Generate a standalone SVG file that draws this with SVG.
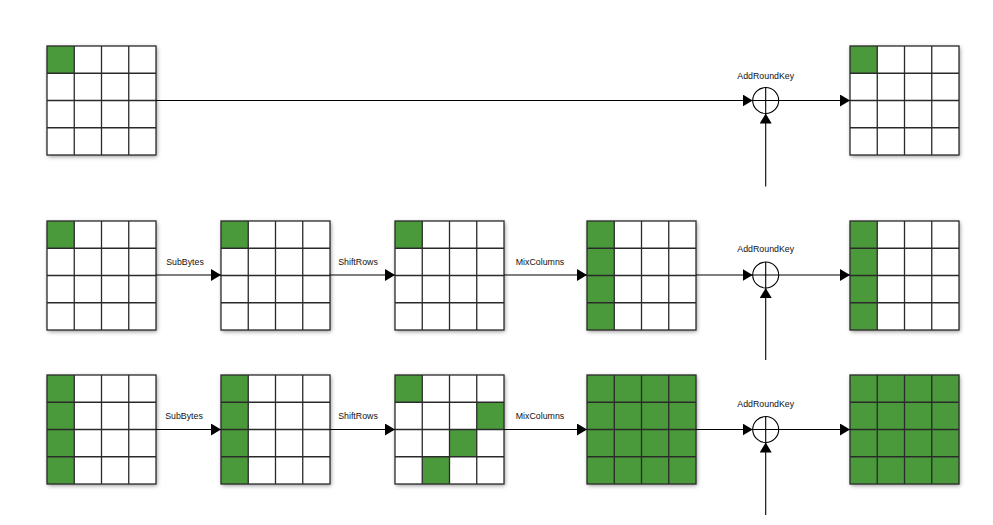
<svg xmlns="http://www.w3.org/2000/svg" xmlns:xlink="http://www.w3.org/1999/xlink" width="993" height="525" viewBox="0 0 993 525">
<style>
.bg{fill:#ffffff;filter:url(#sh)}
.g{fill:#4a9a3b}
.gl{fill:none;stroke:#2a2a2a;stroke-width:1.3}
.c{fill:none;stroke:#000;stroke-width:1.1}
.ln{fill:none;stroke:#000;stroke-width:1.1}
.ar{fill:none;stroke:#000;stroke-width:1.1;marker-end:url(#ah)}
.t{font-family:"Liberation Sans",Arial,sans-serif;font-size:8.8px;fill:#111;text-anchor:middle}
</style>
<defs>
<filter id="sh" x="-10%" y="-10%" width="125%" height="125%">
<feDropShadow dx="1" dy="1.5" stdDeviation="2" flood-color="#000" flood-opacity="0.45"/>
</filter>
<marker id="ah" markerUnits="userSpaceOnUse" markerWidth="11" markerHeight="13" refX="10" refY="6" orient="auto">
<path d="M0,0 L10,6 L0,12 z" fill="#000"/>
</marker>
<g id="grid">
<path class="gl" d="M27.25,0V109M54.5,0V109M81.75,0V109M0,27.25H109M0,54.5H109M0,81.75H109"/>
<rect class="gl" x="0" y="0" width="109" height="109"/>
</g>
<g id="col0">
<rect class="g" x="0" y="0" width="27.25" height="109"/>
</g>
<g id="cell0">
<rect class="g" x="0" y="0" width="27.25" height="27.25"/>
</g>
<g id="full">
<rect class="g" x="0" y="0" width="109" height="109"/>
</g>
<g id="xor">
<circle class="c" cx="0" cy="0" r="13"/>
<path class="ln" d="M-13,0H13M0,-13V13"/>
</g>
</defs>

<!-- Row 1 -->
<g id="r1-state" transform="translate(47,46)">
<rect class="bg" width="109" height="109"/><use href="#cell0"/><use href="#grid"/>
</g>
<g id="r1-ark" transform="translate(765.7,100.5)">
<use href="#xor"/><text class="t" x="0" y="-22">AddRoundKey</text>
</g>
<g id="r1-out" transform="translate(850,46)">
<rect class="bg" width="109" height="109"/><use href="#cell0"/><use href="#grid"/>
</g>

<!-- Row 2 -->
<g id="r2-state" transform="translate(47,221)">
<rect class="bg" width="109" height="109"/><use href="#cell0"/><use href="#grid"/>
</g>
<g id="r2-sub" transform="translate(221,221)">
<rect class="bg" width="109" height="109"/><use href="#cell0"/><use href="#grid"/>
</g>
<g id="r2-shift" transform="translate(395,221)">
<rect class="bg" width="109" height="109"/><use href="#cell0"/><use href="#grid"/>
</g>
<g id="r2-mix" transform="translate(587,221)">
<rect class="bg" width="109" height="109"/><use href="#col0"/><use href="#grid"/>
</g>
<g id="r2-ark" transform="translate(765.7,275)">
<use href="#xor"/><text class="t" x="0" y="-23">AddRoundKey</text>
</g>
<g id="r2-out" transform="translate(850,221)">
<rect class="bg" width="109" height="109"/><use href="#col0"/><use href="#grid"/>
</g>

<!-- Row 3 -->
<g id="r3-state" transform="translate(47,375)">
<rect class="bg" width="109" height="109"/><use href="#col0"/><use href="#grid"/>
</g>
<g id="r3-sub" transform="translate(221,375)">
<rect class="bg" width="109" height="109"/><use href="#col0"/><use href="#grid"/>
</g>
<g id="r3-shift" transform="translate(395,375)">
<rect class="bg" width="109" height="109"/>
<rect class="g" x="0" y="0" width="27.25" height="27.25"/>
<rect class="g" x="81.75" y="27.25" width="27.25" height="27.25"/>
<rect class="g" x="54.5" y="54.5" width="27.25" height="27.25"/>
<rect class="g" x="27.25" y="81.75" width="27.25" height="27.25"/>
<use href="#grid"/>
</g>
<g id="r3-mix" transform="translate(587,375)">
<rect class="bg" width="109" height="109"/><use href="#full"/><use href="#grid"/>
</g>
<g id="r3-ark" transform="translate(765.7,429.5)">
<use href="#xor"/><text class="t" x="0" y="-23">AddRoundKey</text>
</g>
<g id="r3-out" transform="translate(850,375)">
<rect class="bg" width="109" height="109"/><use href="#full"/><use href="#grid"/>
</g>

<g id="connectors">
<path class="ar" d="M156,100.5H752.7"/>
<path class="ar" d="M778.7,100.5H850"/>
<path class="ar" d="M765.7,186.5V113.5"/>

<path class="ar" d="M156,275H221"/>
<path class="ar" d="M330,275H395"/>
<path class="ar" d="M504,275H587"/>
<path class="ar" d="M696,275H752.7"/>
<path class="ar" d="M778.7,275H850"/>
<path class="ar" d="M765.7,360V288"/>

<path class="ar" d="M156,429.5H221"/>
<path class="ar" d="M330,429.5H395"/>
<path class="ar" d="M504,429.5H587"/>
<path class="ar" d="M696,429.5H752.7"/>
<path class="ar" d="M778.7,429.5H850"/>
<path class="ar" d="M765.7,515V442.5"/>

<text class="t" x="185" y="265">SubBytes</text>
<text class="t" x="358" y="265">ShiftRows</text>
<text class="t" x="540" y="265">MixColumns</text>
<text class="t" x="184" y="419">SubBytes</text>
<text class="t" x="358" y="419">ShiftRows</text>
<text class="t" x="540" y="419">MixColumns</text>
</g>
</svg>
